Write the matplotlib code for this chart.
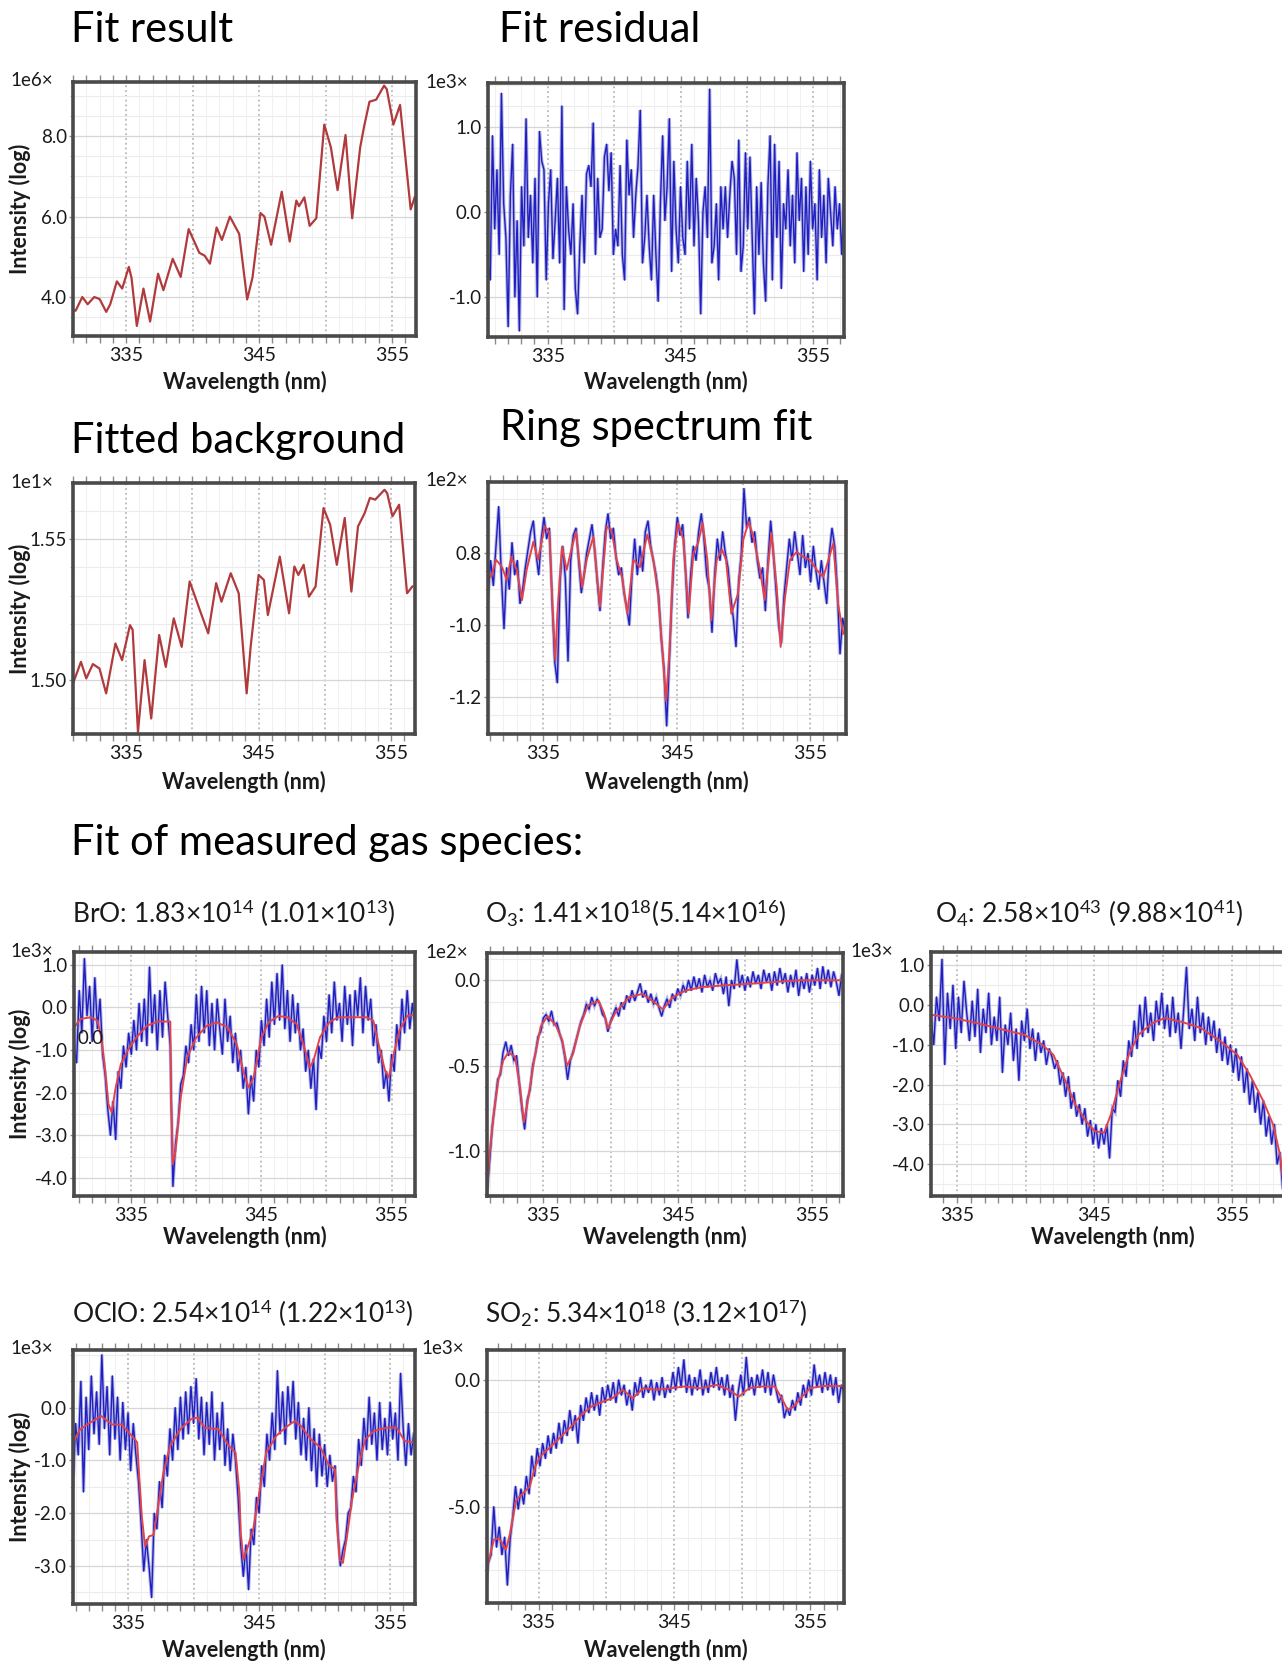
import numpy as np
import matplotlib
matplotlib.use("Agg")
import matplotlib.pyplot as plt
from matplotlib.ticker import MultipleLocator, FuncFormatter

plt.rcParams['font.family'] = ['Lato', 'DejaVu Sans']
plt.rcParams['mathtext.fontset'] = 'custom'
plt.rcParams['mathtext.rm'] = 'Lato'
plt.rcParams['mathtext.it'] = 'Lato:italic'
plt.rcParams['mathtext.bf'] = 'Lato:bold'

# ---------------- DATA ----------------
x_labeled_ticks = [335, 345, 355]

fit_result_wl = [330.9, 331.2, 331.7, 332.1, 332.6, 333.0, 333.5, 333.8, 334.3, 334.7,
                 335.2, 335.4, 335.8, 336.3, 336.8, 337.4, 337.8, 338.5, 339.1, 339.7,
                 340.5, 340.9, 341.3, 341.8, 342.2, 342.8, 343.5, 344.1, 344.5, 345.1,
                 345.4, 345.9, 346.7, 347.3, 347.8, 348.0, 348.4, 348.8, 349.3, 349.9,
                 350.4, 350.9, 351.5, 352.0, 352.6, 352.9, 353.3, 353.8, 354.4, 354.6,
                 355.1, 355.6, 356.4, 356.7]
fit_result_val = [3.67, 3.66, 4.0, 3.82, 4.0, 3.95, 3.63, 3.82, 4.39, 4.21,
                  4.75, 4.48, 3.28, 4.21, 3.39, 4.58, 4.17, 4.95, 4.5, 5.69,
                  5.1, 5.03, 4.83, 5.73, 5.42, 6.0, 5.57, 3.94, 4.48, 6.09,
                  6.0, 5.3, 6.62, 5.38, 6.4, 6.26, 6.48, 5.77, 5.96, 8.29,
                  7.72, 6.66, 8.03, 5.96, 7.72, 8.25, 8.86, 8.91, 9.26, 9.17,
                  8.29, 8.78, 6.18, 6.48]

residual_range = (330.5, 357.3)
residual_val = [-0.6, -0.8, 0.9, -0.2, 0.5, -0.5, 1.4, 0.1, -0.3, -1.35, 0.2, 0.8, -1.0, -0.1,
                -1.4, 0.3, -0.4, 1.1, -0.3, 0.2, -0.6, 0.4, -1.0, 0.95, 0.6, 0.5, -0.8, 0.1,
                0.5, -0.55, -0.1, 0.4, -0.6, 1.25, -1.15, 0.3, -0.2, -0.5, 0.1, -0.9, -1.2,
                -0.4, 0.2, -0.6, 0.45, 0.55, 0.3, 1.05, -0.5, 0.4, -0.3, -0.2, 0.65, 0.8, 0.25,
                0.7, -0.5, -0.2, -0.4, 0.55, -0.5, -0.8, 0.85, 0.2, 0.5, -0.3, 0.2, 0.55, 1.2,
                -0.6, -0.3, 0.2, -0.4, -0.8, 0.2, -0.5, -1.05, 0.1, 0.9, -0.1, 0.3, 1.1, -0.7,
                0.6, -0.2, -0.6, 0.3, -0.3, -0.5, 0.6, -0.2, 0.8, -0.4, 0.4, -0.1, -1.2, 0.0,
                0.3, -0.3, 1.45, -0.6, -0.4, 0.1, -0.8, 0.3, -0.2, 0.3, -0.3, 0.2, 0.6, 0.4,
                -0.5, 0.85, -0.7, -0.4, 0.7, -0.2, 0.65, -0.3, -1.2, 0.3, -0.5, 0.35, -0.6,
                -1.05, 0.3, 0.9, -0.8, 0.8, -0.3, 0.6, -0.9, 0.1, -0.2, 0.5, -0.4, 0.2, -0.6,
                0.7, -0.1, 0.4, -0.7, 0.3, -0.5, 0.6, -0.2, 0.1, -0.8, 0.5, -0.3, 0.2, -0.6,
                0.4, 0.0, -0.4, 0.3, -0.2, 0.1, -0.5, 0.2]

background_wl = [331.0, 331.6, 332.0, 332.5, 333.0, 333.5, 334.2, 334.7, 335.3, 335.5,
                 335.9, 336.4, 336.9, 337.5, 338.0, 338.6, 339.2, 339.8, 340.7, 341.2,
                 341.8, 342.2, 342.9, 343.5, 344.1, 344.4, 345.0, 345.4, 345.7, 346.6,
                 347.3, 347.7, 348.0, 348.4, 348.8, 349.3, 349.9, 350.4, 350.9, 351.5,
                 352.0, 352.5, 353.0, 353.4, 353.8, 354.5, 354.7, 355.1, 355.6, 356.2,
                 356.6]
background_val = [1.4988, 1.5065, 1.5006, 1.5057, 1.5041, 1.4953, 1.5130, 1.5071, 1.5195, 1.5178,
                  1.4816, 1.5071, 1.4864, 1.5160, 1.5047, 1.5219, 1.5118, 1.5350, 1.5231, 1.5166,
                  1.5344, 1.5278, 1.5379, 1.5308, 1.4953, 1.5118, 1.5373, 1.5355, 1.5231, 1.5438,
                  1.5237, 1.5403, 1.5373, 1.5409, 1.5296, 1.5332, 1.5610, 1.5551, 1.5409, 1.5575,
                  1.5314, 1.5545, 1.5592, 1.5646, 1.5640, 1.5675, 1.5663, 1.5581, 1.5622, 1.5308,
                  1.5332]

ring_fit_wl = [330.9, 331.1, 331.45, 331.9, 332.25, 332.6, 333.0, 333.4, 333.75, 334.25,
               334.6, 335.1, 335.45, 335.7, 335.9, 336.05, 336.4, 336.75, 337.1, 337.45,
               337.9, 338.25, 338.75, 339.25, 339.75, 340.1, 340.5, 340.9, 341.3, 341.75,
               342.25, 342.8, 343.25, 343.6, 343.95, 344.2, 344.45, 344.75, 345.1, 345.5,
               345.9, 346.25, 346.6, 346.95, 347.3, 347.6, 348.0, 348.4, 348.7, 349.1,
               349.6, 350.0, 350.4, 350.75, 351.25, 351.6, 352.1, 352.5, 352.8, 353.1,
               353.5, 354.0, 354.5, 355.0, 355.5, 356.0, 356.75, 357.1, 357.5]
ring_fit_val = [-0.28, -0.33, -0.09, -0.19, -0.37, -0.05, -0.23, -0.65, -0.23, 0.16,
                -0.09, 0.37, 0.30, -0.79, -1.49, -0.84, 0.09, -0.23, 0.05, 0.30,
                -0.47, -0.09, 0.23, -0.74, 0.37, 0.33, -0.09, -0.33, -0.84, -0.09,
                -0.19, 0.26, -0.09, -0.56, -1.40, -2.05, -1.40, -0.09, 0.42, 0.19,
                -0.84, 0.0, 0.14, 0.42, -0.09, -0.93, -0.09, 0.05, -0.09, -0.84,
                -0.56, 0.19, 0.44, 0.23, -0.23, -0.65, 0.28, -0.47, -1.30, -0.65,
                -0.09, 0.02, -0.05, -0.09, -0.23, -0.33, 0.14, -0.70, -1.12]
ring_meas_range = (330.85, 357.65)
ring_meas_val = [-0.6, -0.1, -0.45, 0.1, 0.65, -0.3, -1.05, -0.2, -0.5, 0.15, -0.3, -0.1, -0.7,
                 -0.5, -0.2, 0.05, 0.3, 0.45, 0.0, -0.3, 0.2, 0.5, 0.2, 0.35, -0.6, -1.5, -1.8,
                 -0.4, 0.1, -0.35, -1.5, -0.1, 0.25, 0.35, -0.1, -0.55, -0.3, 0.0, 0.2, 0.4,
                 0.05, -0.4, -0.8, -0.2, 0.3, 0.55, 0.2, 0.35, -0.05, -0.3, -0.2, -0.55, -0.75,
                 -1.0, -0.3, 0.2, -0.3, 0.1, -0.25, 0.3, 0.45, 0.1, -0.1, -0.3, -0.6, -1.2, -1.6,
                 -2.4, -1.5, -0.6, 0.1, 0.5, 0.25, 0.4, -0.2, -0.9, -0.3, 0.1, -0.1, 0.3, 0.55,
                 0.2, -0.3, -0.5, -1.1, -0.3, 0.2, -0.1, 0.3, 0.0, -0.2, -0.6, -0.9, -1.3, -0.4,
                 0.0, 0.9, 0.35, 0.5, 0.15, 0.3, -0.1, -0.35, -0.2, -0.8, -0.1, 0.45, 0.0, -0.5,
                 -1.0, -1.25, -0.6, -0.2, 0.2, -0.1, 0.3, 0.0, -0.3, 0.25, -0.2, 0.0, -0.4, 0.1,
                 -0.25, -0.5, -0.1, -0.4, -0.7, 0.0, 0.35, 0.1, -0.5, -1.4, -0.9, -1.1]
ring_ytick_labels = ['0.8', '-1.0', '-1.2']

bro_fit_wl = [330.6, 331.1, 331.9, 332.4, 332.7, 333.0, 333.25, 333.5, 333.8, 334.2,
              334.7, 335.4, 336.2, 337.0, 338.0, 338.05, 338.2, 338.4, 338.8, 339.3,
              340.0, 340.8, 341.6, 342.4, 343.1, 343.6, 344.0, 344.4, 345.0, 345.55,
              346.3, 347.0, 347.7, 348.3, 348.7, 349.0, 349.5, 350.2, 350.9, 351.85,
              353.05, 353.6, 354.0, 354.5, 354.8, 355.1, 355.6, 356.2, 356.8]
bro_fit_val = [-0.47, -0.27, -0.23, -0.31, -0.70, -1.48, -2.27, -2.46, -1.88, -1.33,
               -1.02, -0.70, -0.43, -0.33, -0.33, -2.10, -3.67, -3.36, -2.11, -1.17,
               -0.70, -0.43, -0.35, -0.47, -0.86, -1.48, -1.88, -1.64, -0.70, -0.35,
               -0.20, -0.23, -0.39, -0.94, -1.41, -1.25, -0.70, -0.35, -0.23, -0.23,
               -0.23, -0.31, -0.86, -1.48, -1.64, -1.17, -0.55, -0.20, -0.16]
bro_meas_range = (330.6, 356.8)
bro_meas_val = [-0.9, -1.3, 0.4, -0.6, 1.15, -0.2, 0.5, -0.8, 0.7, -0.5, 0.2, -1.1, -1.6, -2.4,
                -3.0, -2.2, -3.1, -1.5, -1.9, -0.9, -1.4, -0.6, -1.1, -0.3, -1.0, 0.1, -0.8, 0.2,
                -0.9, 0.95, -0.6, 0.3, -1.0, 0.4, -0.7, 0.6, -0.2, -0.9, -4.2, -3.2, -2.7, -1.8,
                -1.6, -0.9, -1.3, -0.4, -1.0, 0.3, -0.8, 0.5, -0.6, 0.4, -0.9, 0.1, -1.0, 0.2,
                -0.5, -1.1, 0.2, -0.8, -0.2, -1.3, -0.6, -1.5, -1.0, -1.9, -1.4, -2.5, -1.6, -2.2,
                -1.0, -1.4, -0.3, -0.9, 0.2, -0.7, 0.6, -0.4, 0.8, -0.3, 1.0, -0.5, 0.4, -0.8,
                0.3, -0.6, 0.1, -1.0, -0.5, -1.5, -1.0, -1.9, -1.2, -2.4, -0.9, -1.2, -0.2, -0.8,
                0.3, -0.6, 0.6, -0.3, 0.1, -0.8, 0.5, -0.4, 0.3, -0.9, 0.4, -0.2, 0.7, -0.6, 0.5,
                -0.3, 0.2, -0.9, -0.4, -1.3, -1.0, -1.9, -1.5, -2.2, -1.1, -1.5, -0.4, -1.0, 0.2,
                -0.6, 0.4, -0.5, 0.1, -0.4]

o3_fit_wl = [330.8, 331.0, 331.3, 331.65, 332.0, 332.4, 332.9, 333.25, 333.55, 333.85,
             334.3, 334.8, 335.3, 335.9, 336.4, 336.75, 337.2, 337.7, 338.3, 339.1,
             339.5, 339.8, 340.35, 341.35, 342.35, 343.1, 343.9, 344.6, 345.6, 346.8,
             348.5, 350.5, 352.2, 354.1, 355.85, 357.2]
o3_fit_val = [-1.24, -1.01, -0.78, -0.58, -0.47, -0.42, -0.45, -0.62, -0.83, -0.70,
              -0.47, -0.27, -0.21, -0.26, -0.35, -0.50, -0.43, -0.27, -0.15, -0.12,
              -0.19, -0.28, -0.19, -0.10, -0.08, -0.12, -0.17, -0.10, -0.06, -0.04,
              -0.03, -0.02, -0.01, 0.0, 0.0, 0.0]
o3_meas_range = (330.8, 357.2)
o3_meas_val = [-1.25, -1.05, -0.85, -0.72, -0.58, -0.55, -0.42, -0.36, -0.44, -0.38, -0.47, -0.44,
               -0.6, -0.75, -0.87, -0.7, -0.64, -0.5, -0.43, -0.33, -0.3, -0.22, -0.2, -0.24,
               -0.18, -0.26, -0.25, -0.31, -0.36, -0.45, -0.58, -0.47, -0.42, -0.36, -0.3, -0.24,
               -0.2, -0.14, -0.17, -0.1, -0.15, -0.11, -0.14, -0.2, -0.22, -0.3, -0.24, -0.2,
               -0.16, -0.21, -0.13, -0.17, -0.09, -0.13, -0.06, -0.12, -0.07, -0.02, -0.1, -0.06,
               -0.13, -0.08, -0.14, -0.1, -0.16, -0.21, -0.15, -0.11, -0.16, -0.08, -0.12, -0.05,
               -0.09, -0.03, -0.07, 0.0, -0.06, 0.02, -0.05, 0.01, -0.07, 0.03, -0.04, 0.0,
               -0.06, 0.04, -0.02, 0.01, -0.08, 0.02, -0.15, 0.0, -0.05, 0.12, -0.04, 0.03,
               -0.06, 0.02, -0.04, 0.05, -0.02, 0.03, -0.05, 0.06, -0.01, 0.04, -0.06, 0.05,
               -0.03, 0.07, -0.02, 0.04, -0.07, 0.03, -0.04, 0.06, -0.09, 0.02, -0.05, 0.04,
               -0.07, 0.03, -0.03, 0.07, -0.05, 0.08, -0.02, 0.06, -0.04, 0.05, -0.01, -0.09, 0.03]

o4_fit_wl = [333.15, 334.75, 336.5, 338.45, 339.9, 341.2, 342.0, 342.9, 343.6, 344.4,
             345.0, 345.7, 346.2, 346.8, 347.5, 348.2, 349.2, 350.1, 351.3, 352.75,
             354.2, 355.4, 356.3, 357.3, 358.0, 358.5, 358.7]
o4_fit_val = [-0.25, -0.33, -0.46, -0.63, -0.75, -1.0, -1.25, -1.92, -2.5, -2.92,
              -3.17, -3.21, -2.75, -2.0, -1.25, -0.75, -0.46, -0.33, -0.42, -0.58,
              -0.92, -1.25, -1.75, -2.42, -3.0, -3.75, -4.3]
o4_meas_range = (333.1, 358.7)
o4_meas_val = [-0.3, -1.0, 0.2, -0.4, 1.15, -1.5, 0.3, -0.6, 0.5, -1.1, 0.2, -0.7, 0.6, -0.2,
               -0.9, 0.1, -0.8, 0.4, -1.2, -0.1, -0.7, 0.3, -1.0, -0.3, -0.9, 0.2, -1.7, -0.5,
               -1.0, -0.2, -1.4, -0.6, -1.9, -0.4, -0.9, -0.1, -1.1, -0.6, -1.4, -0.7, -1.2,
               -0.9, -1.5, -1.1, -1.3, -1.6, -1.4, -2.0, -1.7, -2.3, -1.8, -2.6, -2.2, -2.8,
               -2.5, -3.0, -2.6, -3.3, -2.9, -3.5, -3.0, -3.6, -3.1, -3.5, -3.0, -3.85, -2.6,
               -2.7, -1.9, -2.3, -1.4, -1.8, -0.9, -1.3, -0.4, -1.1, 0.0, -0.8, 0.2, -0.7, -0.2,
               -0.9, 0.1, -0.5, 0.3, -0.6, 0.0, -0.8, 0.2, -0.7, -0.2, -1.1, -0.1, 0.95, -0.6,
               -0.1, -0.9, 0.2, -0.7, -0.2, -1.0, -0.3, -0.9, -0.4, -1.2, -0.6, -1.4, -0.8,
               -1.5, -1.0, -1.7, -1.1, -1.9, -1.3, -2.2, -1.6, -2.5, -1.9, -2.7, -2.2, -3.0,
               -2.4, -3.3, -2.8, -3.5, -3.0, -4.0, -3.7, -4.6]

oclo_fit_wl = [330.8, 331.35, 332.15, 332.95, 333.75, 334.5, 335.2, 335.7, 335.85, 336.05,
               336.3, 336.6, 336.95, 337.3, 337.7, 338.2, 339.0, 339.8, 340.3, 340.85,
               341.9, 342.7, 343.2, 343.5, 343.6, 343.8, 344.15, 344.55, 345.1, 345.55,
               346.3, 347.0, 347.75, 348.2, 348.95, 349.7, 350.3, 350.8, 350.9, 351.15,
               351.4, 351.75, 352.1, 352.6, 353.1, 353.8, 354.8, 355.5, 356.1, 356.7]
oclo_fit_val = [-0.66, -0.41, -0.28, -0.16, -0.32, -0.32, -0.51, -0.66, -1.30, -2.06,
                -2.63, -2.44, -2.41, -1.87, -1.23, -0.73, -0.41, -0.22, -0.19, -0.38,
                -0.41, -0.73, -0.85, -1.61, -2.37, -2.88, -2.63, -2.31, -1.49, -0.85,
                -0.54, -0.38, -0.25, -0.35, -0.60, -0.76, -1.08, -1.17, -2.06, -2.88,
                -2.94, -2.37, -1.74, -1.11, -0.60, -0.44, -0.38, -0.38, -0.63, -0.66]
oclo_meas_range = (330.8, 356.8)
oclo_meas_val = [-1.5, -0.3, -0.9, 0.5, -1.6, 0.2, -0.8, 0.6, -0.5, 0.3, -0.7, 1.0, -0.4, 0.4,
                 -0.9, 0.6, -0.6, 0.2, -1.0, 0.1, -0.8, -0.1, -1.2, -0.3, -0.9, -1.4, -2.2, -3.1,
                 -2.5, -3.0, -3.6, -2.0, -2.3, -1.4, -1.9, -0.9, -1.3, -0.4, -1.0, 0.0, -0.8, 0.2,
                 -0.6, 0.3, -0.5, 0.4, -0.3, 0.55, -0.6, 0.2, -0.9, 0.1, -0.7, 0.3, -1.0, -0.1,
                 -0.8, 0.1, -1.1, -0.4, -1.2, -0.5, -1.0, -1.7, -2.6, -3.2, -2.6, -3.45, -2.3,
                 -2.6, -1.7, -2.0, -1.1, -1.5, -0.5, -1.0, -0.1, -0.8, 0.7, -0.5, 0.3, -0.7, 0.4,
                 -0.3, 0.5, -0.6, 0.1, -0.9, -0.2, -1.0, 0.0, -1.2, -0.4, -1.5, -0.5, -1.3, -0.7,
                 -1.5, -0.9, -1.4, -1.1, -2.3, -3.0, -2.7, -2.5, -2.0, -1.9, -1.3, -1.6, -0.6,
                 -1.1, -0.2, -0.8, 0.2, -0.7, -0.1, -1.0, 0.1, -0.8, -0.2, -0.9, 0.1, -0.6, -0.1,
                 -1.0, 0.65, -0.4, -1.1, -0.3, -0.9, -0.5]

so2_fit_wl = [331.1, 331.35, 331.7, 332.1, 332.6, 332.9, 333.35, 333.85, 334.35, 334.75,
              335.1, 335.9, 336.65, 337.4, 338.15, 338.9, 339.7, 340.45, 341.2, 341.95,
              342.7, 343.7, 344.75, 345.7, 346.9, 348.1, 349.05, 349.75, 350.5, 351.4,
              352.4, 352.85, 353.35, 353.8, 354.3, 355.0, 355.95, 357.4]
so2_fit_val = [-7.76, -7.1, -6.3, -6.25, -6.7, -6.05, -4.74, -4.47, -4.21, -3.42,
               -3.03, -2.63, -2.24, -1.84, -1.38, -1.05, -0.86, -0.72, -0.39, -0.72,
               -0.33, -0.39, -0.33, -0.26, -0.33, -0.20, -0.39, -0.66, -0.33, -0.26,
               -0.26, -0.66, -1.18, -1.05, -0.72, -0.33, -0.24, -0.24]
so2_meas_range = (331.1, 357.5)
so2_meas_val = [-8.4, -7.2, -6.9, -5.0, -6.6, -5.8, -6.9, -6.2, -8.1, -6.3, -5.4, -4.2, -5.1, -4.3,
                -4.9, -3.8, -4.5, -3.0, -3.8, -2.7, -3.4, -2.5, -3.1, -2.2, -2.9, -2.1, -2.7, -1.7,
                -2.5, -1.6, -2.2, -1.2, -2.0, -1.4, -2.5, -1.0, -1.6, -0.7, -1.3, -0.5, -1.2, -0.6,
                -1.4, -0.3, -0.9, -0.2, -0.8, -0.1, -0.9, 0.0, -0.6, -0.2, -1.0, -0.4, -1.2, -0.1,
                -0.6, 0.1, -0.7, -0.2, -0.5, 0.0, -0.8, -0.1, -0.6, 0.1, -0.7, -0.2, -0.5, 0.3,
                -0.4, 0.5, -0.3, 0.8, -0.5, 0.2, -0.6, 0.1, -0.4, 0.4, -0.6, 0.0, -0.5, 0.3, -0.3,
                0.5, -0.4, 0.1, -0.6, 0.2, -0.7, -0.2, -1.6, -0.5, 0.2, -0.6, 0.9, -0.4, 0.1, -0.6,
                0.2, -0.3, 0.4, -0.5, 0.3, -0.6, 0.2, -0.4, -0.9, -0.6, -1.5, -1.1, -1.4, -0.8,
                -1.2, -0.5, -1.0, -0.2, -0.7, 0.0, -0.6, 0.6, -0.3, 0.2, -0.5, 0.3, -0.4, 0.2,
                -0.6, 0.1, -0.9, -0.2, -0.5]

species_titles = ['BrO: 1.83×10$^{14}$ (1.01×10$^{13}$)',
                  'O$_3$: 1.41×10$^{18}$(5.14×10$^{16}$)',
                  'O$_4$: 2.58×10$^{43}$ (9.88×10$^{41}$)',
                  'OClO: 2.54×10$^{14}$ (1.22×10$^{13}$)',
                  'SO$_2$: 5.34×10$^{18}$ (3.12×10$^{17}$)']

# ---------------- LAYOUT ----------------
W, H = 1282, 1664
fig = plt.figure(figsize=(W / 100, H / 100), dpi=100)
fig.patch.set_facecolor('white')

TXT = '#1a1a1a'


def rect(l, t, r, b):
    return [l / W, 1 - b / H, (r - l) / W, (b - t) / H]


def make_axes(box, xlim, ylim, yticks, ylabels, yminor, mult, mult_right, xlabel_y,
              ylabel=False):
    l, t, r, b = box
    ax = fig.add_axes(rect(l, t, r, b))
    ax.set_xlim(*xlim)
    ax.set_ylim(*ylim)
    ax.xaxis.set_major_locator(MultipleLocator(5))
    ax.xaxis.set_major_formatter(FuncFormatter(
        lambda v, p: f"{v:.0f}" if int(round(v)) in x_labeled_ticks else ""))
    ax.xaxis.set_minor_locator(MultipleLocator(1))
    ax.set_yticks(yticks, labels=ylabels)
    ax.yaxis.set_minor_locator(MultipleLocator(yminor))
    ax.grid(True, which='major', axis='x', color='#b8b8b8', ls=':', lw=1.3)
    ax.grid(True, which='minor', axis='x', color='#f1f1f1', ls='-', lw=0.8)
    ax.grid(True, which='major', axis='y', color='#d6d6d6', ls='-', lw=0.9)
    ax.grid(True, which='minor', axis='y', color='#ececec', ls='-', lw=0.8)
    ax.set_axisbelow(True)
    for s in ax.spines.values():
        s.set_color('#4a4a4a')
        s.set_linewidth(2.6)
    ax.tick_params(axis='x', which='both', direction='out', top=True, color='#8a8a8a',
                   length=5, width=1, labelsize=14, pad=3, labelcolor=TXT)
    ax.tick_params(axis='y', which='major', direction='out', length=3, width=1,
                   color='#8a8a8a', labelsize=13.5, pad=1.5, labelcolor=TXT)
    ax.tick_params(axis='y', which='minor', length=2, color='#b0b0b0')
    ax.set_xlabel('Wavelength (nm)', fontsize=15.5, fontweight='bold', color=TXT, va='center')
    ax.xaxis.set_label_coords(0.5, (b - xlabel_y) / (b - t))
    fig.text(mult_right / W, 1 - (t - 1) / H, mult, ha='right', va='center',
             fontsize=13.5, color=TXT)
    if ylabel:
        fig.text(20 / W, 1 - ((t + b) / 2) / H, 'Intensity (log)', rotation=90,
                 ha='center', va='center', fontsize=15.5, fontweight='bold', color=TXT)
    return ax


RED_DARK = '#b03a3c'
RED = '#e2434b'
BLUE = '#1e1ec4'
BLUE_HALO = '#8f8fcf'


def draw_meas(ax, rng, vals):
    x = np.linspace(rng[0], rng[1], len(vals))
    ax.plot(x, vals, color=BLUE_HALO, lw=2.4, alpha=0.65, solid_joinstyle='miter')
    ax.plot(x, vals, color=BLUE, lw=1.0)


# Big headings
big = 30
fig.text(71 / W, 1 - 42 / H, 'Fit result', fontsize=big, color='black', va='baseline')
fig.text(499 / W, 1 - 42 / H, 'Fit residual', fontsize=big, color='black', va='baseline')
fig.text(71 / W, 1 - 453 / H, 'Fitted background', fontsize=big, color='black', va='baseline')
fig.text(500 / W, 1 - 440 / H, 'Ring spectrum fit', fontsize=big, color='black', va='baseline')
fig.text(71 / W, 1 - 855 / H, 'Fit of measured gas species:', fontsize=big, color='black',
         va='baseline')

# Species subtitles
sub = 19
fig.text(72 / W, 1 - 923 / H, species_titles[0], fontsize=sub, va='baseline', color=TXT)
fig.text(485 / W, 1 - 923 / H, species_titles[1], fontsize=sub, va='baseline', color=TXT)
fig.text(935 / W, 1 - 923 / H, species_titles[2], fontsize=sub, va='baseline', color=TXT)
fig.text(72 / W, 1 - 1323 / H, species_titles[3], fontsize=sub, va='baseline', color=TXT)
fig.text(485 / W, 1 - 1323 / H, species_titles[4], fontsize=sub, va='baseline', color=TXT)

# Panel 1: Fit result
ax1 = make_axes((73, 82, 416, 336), (331.0, 356.8), (3.03, 9.35), [4, 6, 8],
                ['4.0', '6.0', '8.0'], 0.5, '1e6×', 53, 382, ylabel=True)
ax1.plot(fit_result_wl, fit_result_val, color=RED_DARK, lw=1.6)

# Panel 2: residual
ax2 = make_axes((488, 83, 844, 337), (330.5, 357.3), (-1.47, 1.52), [-1, 0, 1],
                ['-1.0', '0.0', '1.0'], 0.25, '1e3×', 468, 382)
draw_meas(ax2, residual_range, residual_val)

# Panel 3: background
ax3 = make_axes((73, 483, 415, 734), (331.0, 356.8), (1.4809, 1.5699), [1.50, 1.55],
                ['1.50', '1.55'], 0.01, '1e1×', 53, 782, ylabel=True)
ax3.plot(background_wl, background_val, color=RED_DARK, lw=1.6)

# Panel 4: ring
ax4 = make_axes((488, 482, 846, 734), (330.85, 357.7), (-2.51, 0.99), [0, -1, -2],
                ring_ytick_labels, 0.25, '1e2×', 468, 782)
draw_meas(ax4, ring_meas_range, ring_meas_val)
ax4.plot(ring_fit_wl, ring_fit_val, color=RED, lw=1.4)

# Panel 5: BrO
ax5 = make_axes((74, 952, 415, 1196), (330.6, 356.8), (-4.42, 1.3), [1, 0, -1, -2, -3, -4],
                ['1.0', '0.0', '-1.0', '-2.0', '-3.0', '-4.0'], 0.5, '1e3×', 53, 1237,
                ylabel=True)
draw_meas(ax5, bro_meas_range, bro_meas_val)
ax5.plot(bro_fit_wl, bro_fit_val, color=RED, lw=1.4)
fig.text(78 / W, 1 - 1038 / H, '0.0', fontsize=13.5, va='center', ha='left', color=TXT)

# Panel 6: O3
ax6 = make_axes((487, 953, 843, 1196), (330.8, 357.3), (-1.26, 0.159), [0, -0.5, -1.0],
                ['0.0', '-0.5', '-1.0'], 0.125, '1e2×', 468, 1237)
draw_meas(ax6, o3_meas_range, o3_meas_val)
ax6.plot(o3_fit_wl, o3_fit_val, color=RED, lw=1.4)

# Panel 7: O4 (cut off at right edge)
ax7 = make_axes((931, 952, 1295, 1196), (333.1, 359.6), (-4.8, 1.33), [1, 0, -1, -2, -3, -4],
                ['1.0', '0.0', '-1.0', '-2.0', '-3.0', '-4.0'], 0.5, '1e3×', 893, 1237)
draw_meas(ax7, o4_meas_range, o4_meas_val)
ax7.plot(o4_fit_wl, o4_fit_val, color=RED, lw=1.4)

# Panel 8: OClO
ax8 = make_axes((73, 1350, 415, 1604), (330.8, 356.9), (-3.72, 1.09), [0, -1, -2, -3],
                ['0.0', '-1.0', '-2.0', '-3.0'], 0.5, '1e3×', 53, 1650, ylabel=True)
draw_meas(ax8, oclo_meas_range, oclo_meas_val)
ax8.plot(oclo_fit_wl, oclo_fit_val, color=RED, lw=1.4)

# Panel 9: SO2
ax9 = make_axes((487, 1350, 844, 1603), (331.2, 357.5), (-8.8, 1.18), [0, -5],
                ['0.0', '-5.0'], 1.25, '1e3×', 464, 1650)
draw_meas(ax9, so2_meas_range, so2_meas_val)
ax9.plot(so2_fit_wl, so2_fit_val, color=RED, lw=1.4)

fig.savefig('out.png', dpi=100, facecolor='white')
